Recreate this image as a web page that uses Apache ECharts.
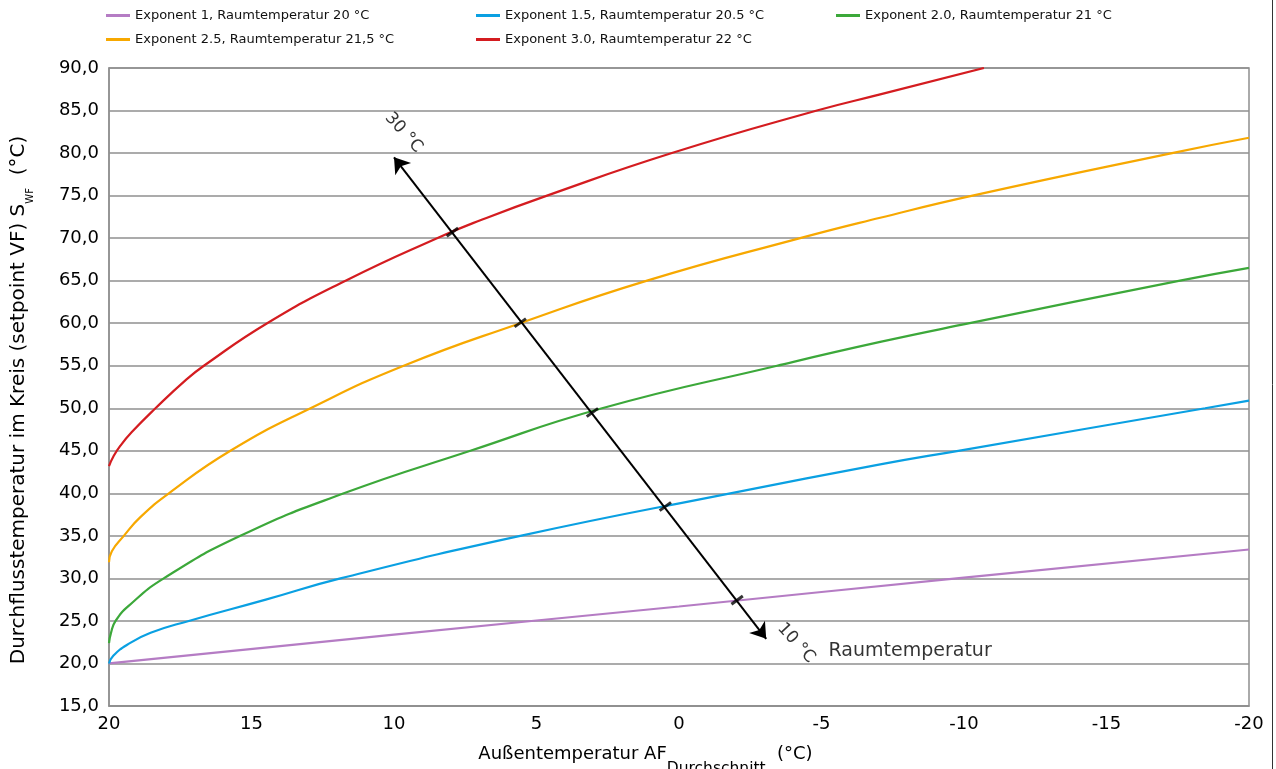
<!DOCTYPE html>
<html>
<head>
<meta charset="utf-8">
<script src="https://cdn.jsdelivr.net/npm/echarts@6/dist/echarts.min.js"></script>
<style>
  html, body { margin: 0; padding: 0; background: #fff; }
  #chart { width: 1276px; height: 769px; }
</style>
</head>
<body>
<div id="chart"></div>
<script>
// Reihen: [Außentemperatur, Vorlauftemperatur]
const exp10 = [[20, 20.0], [10, 23.4], [0, 26.7], [-10, 30.1], [-20, 33.4]];
const exp15 = [[20, 20.0], [19.85, 20.9], [19.36, 22.2], [18.54, 23.6], [17.2, 25.0], [14.5, 27.5],
  [11.88, 30.0], [5.57, 35.0], [-1.8, 40.0], [-7.06, 43.4], [-9.8, 45.0], [-18.46, 50.0], [-20, 50.9]];
const exp20 = [[20, 22.4], [19.93, 23.6], [19.77, 25.0], [19.3, 26.8], [18.08, 30.0], [15.39, 35.0],
  [11.76, 40.0], [7.32, 45.0], [2.7, 50.0], [-3.44, 55.0], [-7.06, 57.8], [-10.2, 60.0], [-17.58, 65.0], [-20, 66.5]];
const exp25 = [[20, 31.9], [19.9, 33.2], [19.48, 35.0], [18.9, 37.2], [17.9, 40.0], [15.74, 45.0],
  [12.93, 50.0], [9.66, 55.0], [5.57, 60.0], [1.12, 65.0], [-4.25, 70.0], [-7.06, 72.4], [-10.3, 75.0], [-17.3, 80.0], [-20, 81.8]];
const exp30 = [[20, 43.2], [19.85, 44.3], [19.6, 45.6], [19.2, 47.2], [18.37, 50.0], [17.28, 53.4],
  [16.67, 55.0], [14.45, 60.0], [11.7, 65.0], [8.49, 70.0], [6.97, 72.1], [4.63, 75.0], [0.25, 80.0],
  [-4.84, 85.0], [-7.06, 86.9], [-10.7, 90.0]];

const seriesNames = [
  'Exponent 1, Raumtemperatur 20 °C',
  'Exponent 1.5, Raumtemperatur 20.5 °C',
  'Exponent 2.0, Raumtemperatur 21 °C',
  'Exponent 2.5, Raumtemperatur 21,5 °C',
  'Exponent 3.0, Raumtemperatur 22 °C'
];
const seriesData = [exp10, exp15, exp20, exp25, exp30];
const seriesColors = ['#b57cc4', '#0aa0e2', '#3ca83a', '#f7a800', '#d41c20'];

// Raumtemperatur-Pfeil
const arrowEnds = [[10.0, 79.5], [-3.06, 22.9]];
const arrowTicks = [[7.95, 70.7], [5.57, 60.05], [3.04, 49.5], [0.48, 38.45], [-2.04, 27.45]];
const arrowLabels = ['30 °C', '10 °C', 'Raumtemperatur'];
const arrowLabelPos = [[9.66, 82.4], [-4.11, 22.4], [-8.11, 21.5]];
const arrowLabelRotate = [-48, -48, 0];

const legendPos = [[106, 9], [476, 9], [836, 9], [106, 33], [476, 33]];

const font = 'DejaVu Sans';
const gridColor = '#8f8f8f';

let myChart = echarts.init(document.getElementById('chart'));

let series = seriesNames.map((name, i) => ({
  name: name,
  type: 'line',
  data: seriesData[i],
  smooth: 0.5,
  showSymbol: false,
  lineStyle: { color: seriesColors[i], width: 2.2 },
  itemStyle: { color: seriesColors[i] },
  z: 3
}));

series.push({
  name: 'pfeil',
  type: 'scatter',
  data: arrowTicks,
  symbol: 'rect',
  symbolSize: [14, 3],
  symbolRotate: 36,
  itemStyle: { color: '#000' },
  silent: true,
  z: 5,
  markLine: {
    silent: true,
    symbol: ['arrow', 'arrow'],
    symbolSize: 15,
    label: { show: false },
    lineStyle: { color: '#000', width: 2, type: 'solid' },
    data: [[{ coord: arrowEnds[0] }, { coord: arrowEnds[1] }]]
  }
});

series.push({
  name: 'beschriftung',
  type: 'scatter',
  symbolSize: 1,
  itemStyle: { color: 'transparent' },
  silent: true,
  data: arrowLabels.map((t, i) => ({
    value: arrowLabelPos[i],
    label: {
      show: true,
      position: 'inside',
      formatter: t,
      rotate: arrowLabelRotate[i],
      fontFamily: font,
      fontSize: i < 2 ? 17 : 19,
      color: '#000'
    }
  }))
});

let option = {
  animation: false,
  textStyle: { fontFamily: font },
  legend: seriesNames.map((name, i) => ({
    data: [name],
    left: legendPos[i][0],
    top: legendPos[i][1],
    padding: 0,
    icon: 'rect',
    itemWidth: 24,
    itemHeight: 3,
    selectedMode: false,
    textStyle: { fontFamily: font, fontSize: 13, color: '#111' }
  })),
  grid: {
    left: 109, right: 27, top: 68, bottom: 63,
    outerBoundsMode: 'none',
    containLabel: false,
    show: true, borderColor: gridColor, borderWidth: 1.5
  },
  xAxis: {
    type: 'value',
    min: -20, max: 20, interval: 5,
    inverse: true,
    name: '{a|Außentemperatur AF}{s|Durchschnitt}{c|  (°C)}',
    nameLocation: 'middle',
    nameGap: 37,
    nameTextStyle: {
      padding: [0, 67, 0, 0],
      rich: {
        a: { fontFamily: font, fontSize: 18, color: '#000', lineHeight: 22 },
        c: { fontFamily: font, fontSize: 18, color: '#000', lineHeight: 22 },
        s: { fontFamily: font, fontSize: 15.5, color: '#000', lineHeight: 15, verticalAlign: 'bottom', padding: [0, 0, -12, 0] }
      }
    },
    axisLine: { onZero: false, lineStyle: { color: gridColor, width: 1.5 } },
    axisTick: { show: false },
    axisLabel: { fontFamily: font, fontSize: 18, color: '#000', margin: 9 },
    splitLine: { show: false }
  },
  yAxis: {
    type: 'value',
    min: 15, max: 90, interval: 5,
    name: '{a|Durchflusstemperatur im Kreis (setpoint VF) S}{s|WF}{a|  (°C)}',
    nameLocation: 'middle',
    nameGap: 78,
    nameTextStyle: {
      padding: [0, 26, 0, 0],
      rich: {
        a: { fontFamily: font, fontSize: 20, color: '#000', lineHeight: 24 },
        s: { fontFamily: font, fontSize: 10, color: '#000', lineHeight: 10, verticalAlign: 'bottom', padding: [0, 0, -4, 0] }
      }
    },
    axisLine: { show: true, onZero: false, lineStyle: { color: gridColor, width: 1.5 } },
    axisTick: { show: false },
    axisLabel: {
      fontFamily: font, fontSize: 18, color: '#000', margin: 10,
      formatter: v => v.toFixed(1).replace('.', ',')
    },
    splitLine: { show: true, lineStyle: { color: gridColor, width: 1.5 } }
  },
  graphic: [{
    type: 'line',
    shape: { x1: 1272.5, y1: 0, x2: 1272.5, y2: 769 },
    style: { stroke: '#333', lineWidth: 1 },
    silent: true
  }],
  series: series
};

myChart.setOption(option);
window.addEventListener('resize', () => myChart.resize());
</script>
</body>
</html>
